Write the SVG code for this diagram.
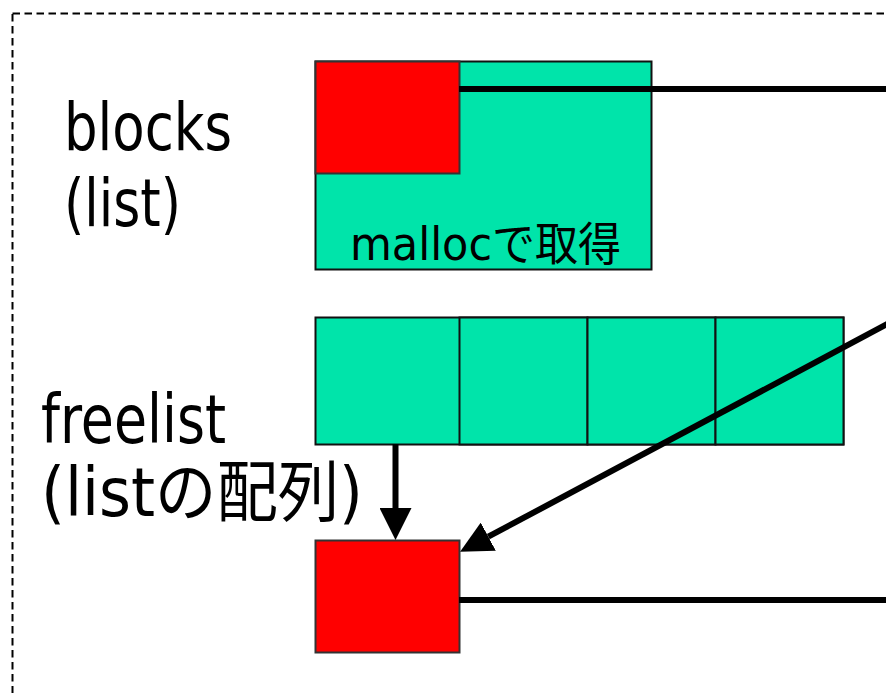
<svg xmlns="http://www.w3.org/2000/svg" width="886" height="693" viewBox="0 0 886 693">
<style>
.lbl{font-family:"DejaVu Sans","Noto Sans CJK JP",sans-serif;fill:#000}
.teal{fill:#00E4AA;stroke:#111;stroke-width:2}
.red{fill:#FF0000;stroke:#333;stroke-width:2}
.conn{stroke:#000;stroke-width:6;fill:none}
</style>
<defs>
<marker id="ah" viewBox="0 0 32 32" refX="0" refY="16" markerWidth="32" markerHeight="32" markerUnits="userSpaceOnUse" orient="auto">
<path d="M0,0 L32,16 L0,32 z" fill="#000"/>
</marker>
</defs>
<rect x="12.5" y="13.5" width="900" height="700" fill="none" stroke="#000" stroke-width="2" stroke-dasharray="7.5 4.5"/>
<g id="labels">
<text class="lbl" x="64" y="150" font-size="65" textLength="168" lengthAdjust="spacingAndGlyphs">blocks</text>
<text class="lbl" x="64" y="226" font-size="65" textLength="117" lengthAdjust="spacingAndGlyphs">(list)</text>
<text class="lbl" x="41" y="443" font-size="67" textLength="185" lengthAdjust="spacingAndGlyphs">freelist</text>
<text class="lbl" x="41" y="516" font-size="67" textLength="322" lengthAdjust="spacingAndGlyphs">(listの配列)</text>
</g>
<g id="blocks">
<rect class="teal" x="315.5" y="61.5" width="336" height="208"/>
<text class="lbl" x="350" y="260" font-size="46" textLength="271" lengthAdjust="spacingAndGlyphs">mallocで取得</text>
</g>
<g id="block-head">
<rect class="red" x="315.5" y="61.5" width="144" height="112"/>
</g>
<g id="freelist">
<rect class="teal" x="315.5" y="317.5" width="528" height="127"/>
<rect class="teal" x="459.5" y="317.5" width="128" height="127"/>
<rect class="teal" x="587.5" y="317.5" width="128" height="127"/>
<rect class="teal" x="715.5" y="317.5" width="128" height="127"/>
</g>
<g id="free-block">
<rect class="red" x="315.5" y="540.5" width="144" height="112"/>
</g>
<g id="connectors">
<line class="conn" x1="459" y1="89" x2="886" y2="89"/>
<line class="conn" x1="459" y1="600" x2="886" y2="600"/>
<line class="conn" x1="395.5" y1="444" x2="395.5" y2="508" marker-end="url(#ah)"/>
<line class="conn" x1="892" y1="321.5" x2="488.3" y2="536.7" marker-end="url(#ah)"/>
</g>
</svg>
